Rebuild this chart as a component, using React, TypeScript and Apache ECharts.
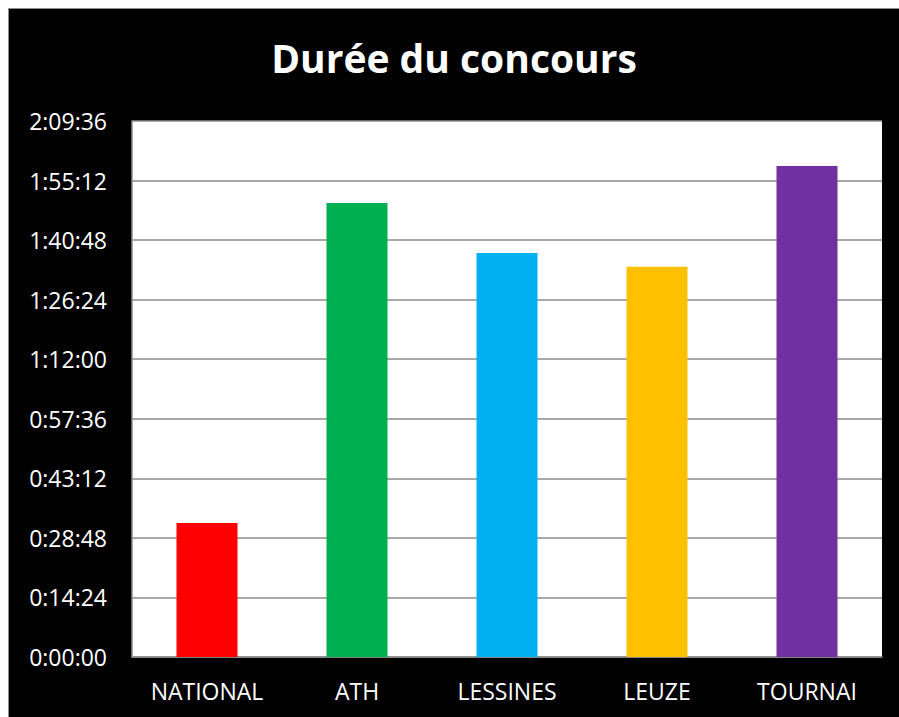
import React, { useEffect, useRef } from "react";
import * as echarts from "echarts";

const categories = ["NATIONAL", "ATH", "LESSINES", "LEUZE", "TOURNAI"];
// durations in seconds
const durations = [1944, 6586, 5861, 5662, 7123];
const barColors = ["#FF0000", "#00B050", "#00B0F0", "#FFC000", "#7030A0"];
const yMax = 7776; // 2:09:36
const yStep = 864; // 0:14:24

function fmt(v: number): string {
  const h = Math.floor(v / 3600);
  const m = Math.floor((v % 3600) / 60);
  const s = Math.round(v % 60);
  return `${h}:${String(m).padStart(2, "0")}:${String(s).padStart(2, "0")}`;
}

export default function App() {
  const ref = useRef<HTMLDivElement>(null);
  useEffect(() => {
    if (!ref.current) return;
    const chart = echarts.init(ref.current, null, { renderer: "svg" });
    chart.setOption({
      animation: false,
      backgroundColor: "#000000",
      title: {
        text: "Durée du concours",
        left: "center",
        top: 24,
        textStyle: {
          color: "#ffffff",
          fontFamily: "Open Sans",
          fontWeight: "bold",
          fontSize: 39,
        },
      },
      grid: {
        left: 123,
        top: 112,
        right: 17,
        bottom: 60,
        show: true,
        backgroundColor: "#ffffff",
        borderWidth: 0,
      },
      xAxis: {
        type: "category",
        data: categories,
        axisLine: { show: true, lineStyle: { color: "#8c8c8c", width: 1.5 } },
        axisTick: { show: false },
        axisLabel: {
          color: "#ffffff",
          fontFamily: "Open Sans",
          fontSize: 23,
          margin: 22,
        },
      },
      yAxis: {
        type: "value",
        min: 0,
        max: yMax,
        interval: yStep,
        axisLine: { show: true, lineStyle: { color: "#8c8c8c", width: 1.5 } },
        axisTick: { show: false },
        splitLine: { show: true, lineStyle: { color: "#8c8c8c", width: 1.5 } },
        axisLabel: {
          color: "#ffffff",
          fontFamily: "Open Sans",
          fontSize: 23,
          margin: 25,
          formatter: (v: number) => fmt(v),
        },
      },
      series: [
        {
          type: "bar",
          barWidth: 61,
          data: durations.map((v, i) => ({
            value: v,
            itemStyle: { color: barColors[i] },
          })),
        },
      ],
    });
    return () => chart.dispose();
  }, []);
  return (
    <div
      style={{
        position: "fixed",
        left: 8,
        top: 8,
        borderLeft: "1px solid #8c8c8c",
        borderTop: "1px solid #8c8c8c",
        width: 890,
        height: 708,
      }}
    >
      <div ref={ref} style={{ width: 890, height: 708 }} />
    </div>
  );
}
